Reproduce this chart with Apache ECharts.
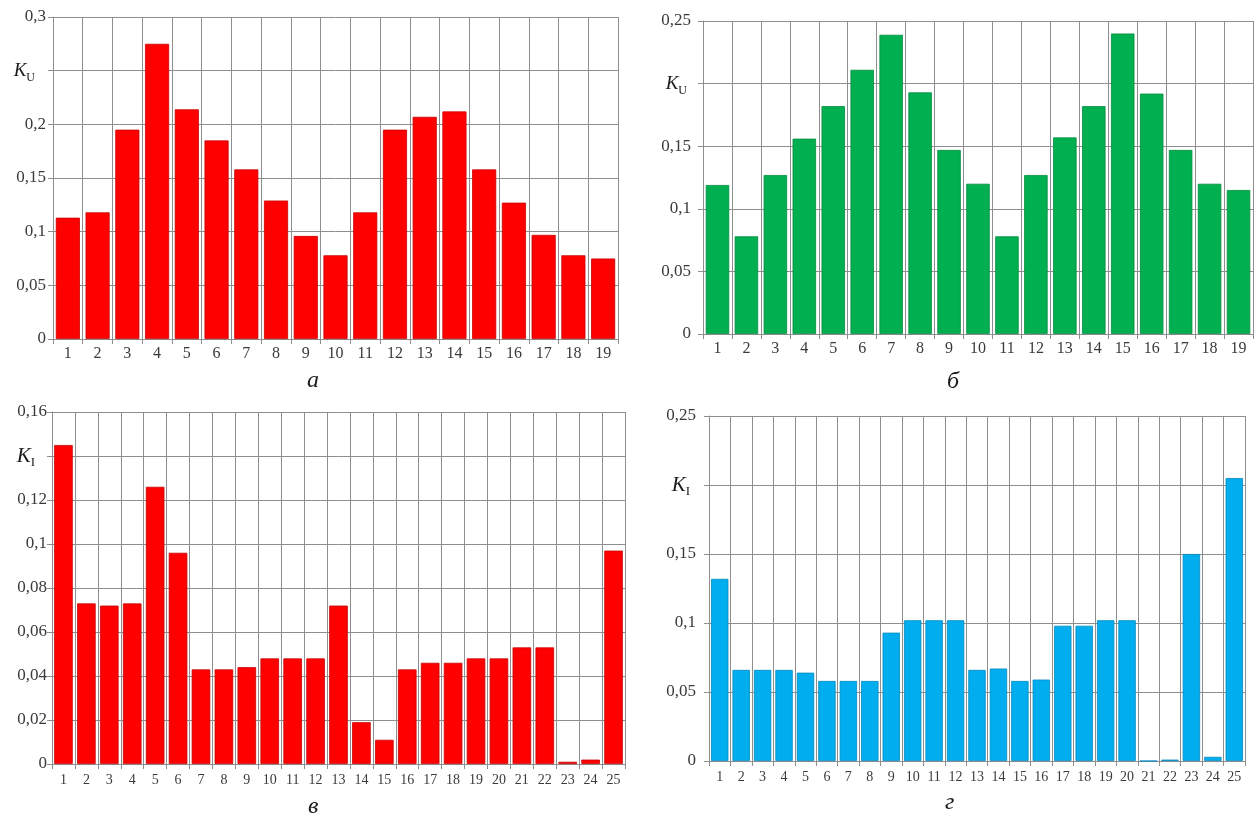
<!DOCTYPE html>
<html>
<head>
<meta charset="utf-8">
<script src="https://cdn.jsdelivr.net/npm/echarts@6/dist/echarts.min.js"></script>
<style>
  html, body { margin: 0; padding: 0; background: #ffffff; }
  #chart { width: 1256px; height: 814px; }
</style>
</head>
<body>
<div id="chart"></div>
<script>
// Category labels (element numbers)
const cats19 = ['1','2','3','4','5','6','7','8','9','10','11','12','13','14','15','16','17','18','19'];
const cats25 = ['1','2','3','4','5','6','7','8','9','10','11','12','13','14','15','16','17','18','19','20','21','22','23','24','25'];

// Voltage coefficient K_U, variant а
const kuA = [0.113, 0.118, 0.195, 0.275, 0.214, 0.185, 0.158, 0.129, 0.096, 0.078,
             0.118, 0.195, 0.207, 0.212, 0.158, 0.127, 0.097, 0.078, 0.075];
// Voltage coefficient K_U, variant б
const kuB = [0.119, 0.078, 0.127, 0.156, 0.182, 0.211, 0.239, 0.193, 0.147, 0.120,
             0.078, 0.127, 0.157, 0.182, 0.240, 0.192, 0.147, 0.120, 0.115];
// Current coefficient K_I, variant в
const kiV = [0.145, 0.073, 0.072, 0.073, 0.126, 0.096, 0.043, 0.043, 0.044, 0.048,
             0.048, 0.048, 0.072, 0.019, 0.011, 0.043, 0.046, 0.046, 0.048, 0.048,
             0.053, 0.053, 0.001, 0.002, 0.097];
// Current coefficient K_I, variant г
const kiG = [0.132, 0.066, 0.066, 0.066, 0.064, 0.058, 0.058, 0.058, 0.093, 0.102,
             0.102, 0.102, 0.066, 0.067, 0.058, 0.059, 0.098, 0.098, 0.102, 0.102,
             0, 0.001, 0.150, 0.003, 0.205];

// Panel captions
const captions = ['а', 'б', 'в', 'г'];

const SERIF = '"Liberation Serif", "DejaVu Serif", serif';
const GRID_COLOR = '#8e8e8e';
const LABEL_COLOR = '#3a3a3a';

const panels = [
  { grid: { left: 53, top: 17, width: 565, height: 322 }, cats: cats19, data: kuA,
    max: 0.3, step: 0.05, kAt: 0.25, sub: 'U', color: '#FF0000', edge: '#C80000',
    yMargin: 7, kPad: 11, xMargin: 7, fs: 16, yfs: 17, kfs: 19, sfs: 12,
    caption: { x: 315, y: 384 } },
  { grid: { left: 703, top: 21, width: 550, height: 313 }, cats: cats19, data: kuB,
    max: 0.25, step: 0.05, kAt: 0.2, sub: 'U', color: '#00B050', edge: '#008A3E',
    yMargin: 12, kPad: 4, xMargin: 7, fs: 16, yfs: 17, kfs: 19, sfs: 12,
    caption: { x: 955, y: 385 } },
  { grid: { left: 52, top: 412, width: 573, height: 352 }, cats: cats25, data: kiV,
    max: 0.16, step: 0.02, kAt: 0.14, sub: 'I', color: '#FF0000', edge: '#C80000',
    yMargin: 5, kPad: 12, xMargin: 9, fs: 14, yfs: 17, kfs: 21, sfs: 13,
    caption: { x: 316, y: 810 } },
  { grid: { left: 709, top: 416, width: 536, height: 345 }, cats: cats25, data: kiG,
    max: 0.25, step: 0.05, kAt: 0.2, sub: 'I', color: '#00AEEF', edge: '#0089C0',
    yMargin: 13, kPad: 6, xMargin: 9, fs: 14, yfs: 17, kfs: 21, sfs: 13,
    caption: { x: 953, y: 806 } }
];

function decimalComma(v) {
  return String(Number(v.toFixed(3))).replace('.', ',');
}

const grids = [], xAxes = [], yAxes = [], series = [], graphics = [];

panels.forEach(function (p, i) {
  grids.push(Object.assign({ containLabel: false }, p.grid));

  xAxes.push({
    type: 'category',
    gridIndex: i,
    data: p.cats,
    boundaryGap: true,
    axisLine: { show: true, lineStyle: { color: GRID_COLOR, width: 1 } },
    axisTick: { show: true, length: 5, interval: 0, lineStyle: { color: GRID_COLOR } },
    axisLabel: { interval: 0, margin: p.xMargin, color: LABEL_COLOR,
                 fontFamily: SERIF, fontSize: p.fs },
    splitLine: { show: true, interval: 0, lineStyle: { color: GRID_COLOR, width: 1 } }
  });

  yAxes.push({
    type: 'value',
    gridIndex: i,
    min: 0,
    max: p.max,
    interval: p.step,
    axisLine: { show: true, lineStyle: { color: GRID_COLOR, width: 1 } },
    axisTick: { show: true, length: 5, lineStyle: { color: GRID_COLOR } },
    splitLine: { show: true, lineStyle: { color: GRID_COLOR, width: 1 } },
    axisLabel: {
      margin: p.yMargin,
      color: LABEL_COLOR,
      fontFamily: SERIF,
      fontSize: p.yfs,
      formatter: function (v) {
        if (Math.abs(v - p.kAt) < 1e-9) return '{k|K}{s|' + p.sub + '}';
        return '{n|' + decimalComma(v) + '}';
      },
      rich: {
        n: { fontFamily: SERIF, fontSize: p.yfs, color: LABEL_COLOR },
        k: { fontFamily: SERIF, fontStyle: 'italic', fontSize: p.kfs, color: '#1a1a1a',
             lineHeight: 26, verticalAlign: 'middle' },
        s: { fontFamily: SERIF, fontSize: p.sfs, color: '#1a1a1a',
             lineHeight: 12, verticalAlign: 'bottom', padding: [0, p.kPad, 0, 0] }
      }
    }
  });

  series.push({
    type: 'bar',
    xAxisIndex: i,
    yAxisIndex: i,
    data: p.data,
    barCategoryGap: '19%',
    itemStyle: { color: p.color, borderColor: p.edge, borderWidth: 0.8 },
    silent: true,
    animation: false
  });

  graphics.push({
    type: 'text',
    left: p.caption.x - 8,
    top: p.caption.y - 15,
    style: { text: captions[i], font: 'italic 24px ' + SERIF, fill: '#1a1a1a' }
  });
});

const chart = echarts.init(document.getElementById('chart'), null, { renderer: 'canvas' });
chart.setOption({
  backgroundColor: '#ffffff',
  animation: false,
  grid: grids,
  xAxis: xAxes,
  yAxis: yAxes,
  series: series,
  graphic: graphics
});
</script>
</body>
</html>
